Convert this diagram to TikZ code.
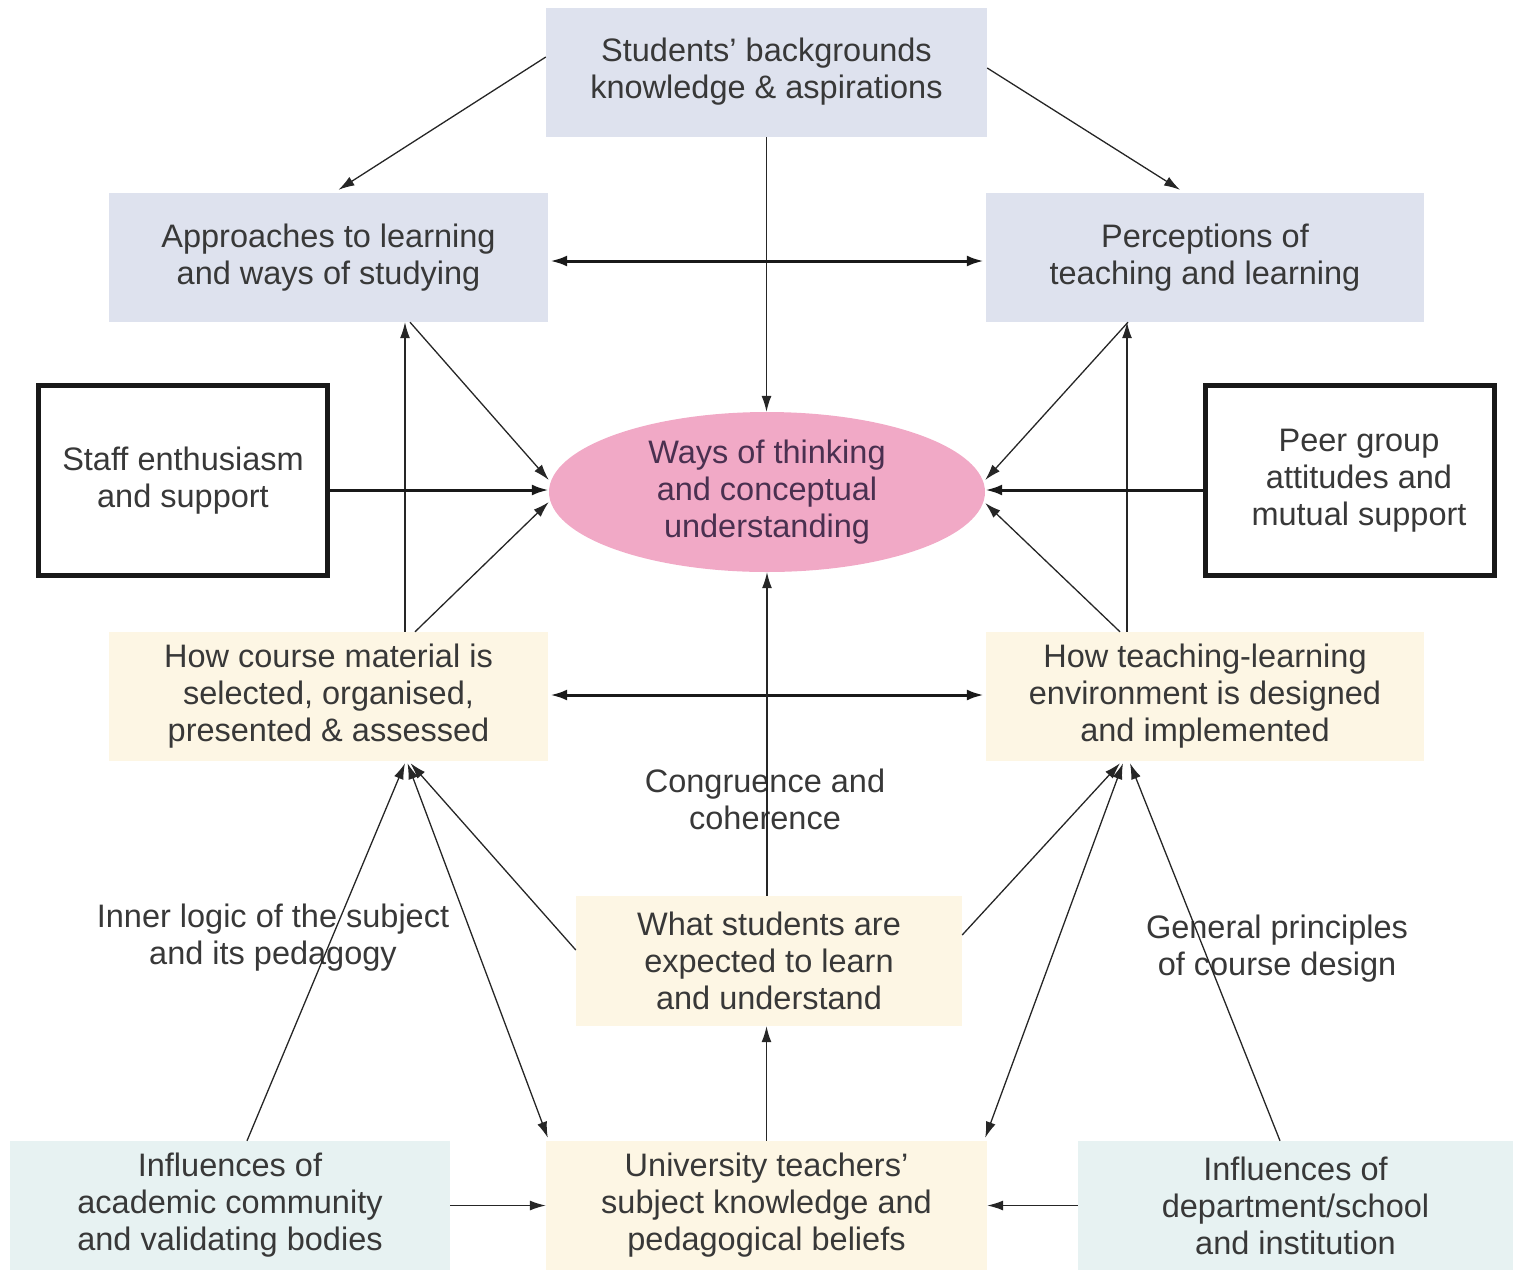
\documentclass[tikz,border=0pt]{standalone}
\usepackage{fontspec}
\setmainfont{Liberation Sans}
\usetikzlibrary{arrows.meta,shapes.geometric}
\definecolor{boxblue}{HTML}{DEE2EE}
\definecolor{boxpink}{HTML}{F1A9C6}
\definecolor{boxcream}{HTML}{FDF6E4}
\definecolor{boxcyan}{HTML}{E7F2F2}
\definecolor{txt}{HTML}{383838}
\definecolor{ptxt}{HTML}{4A3050}
\begin{document}
\begin{tikzpicture}[x=1pt,y=-1pt,font=\fontsize{32.5}{37}\selectfont,
  box/.style={rectangle,inner sep=0pt,align=center,text=txt},
  bluebox/.style={box,fill=boxblue,minimum width=440pt,minimum height=129pt},
  creambox/.style={box,fill=boxcream,minimum width=440pt,minimum height=129pt},
  cyanbox/.style={box,fill=boxcyan,minimum width=438pt,minimum height=129pt},
  framebox/.style={box,draw=black!90,line width=5pt,minimum width=289pt,minimum height=190pt},
  lbl/.style={align=center,text=txt,inner sep=0pt},
  arr/.style={line width=1.3pt,draw=black!85,-{Latex[length=16pt,width=10pt]}},
  darr/.style={line width=1.3pt,draw=black!85,{Latex[length=16pt,width=10pt]}-{Latex[length=16pt,width=10pt]}},
  barr/.style={line width=3pt,draw=black!90,-{Latex[length=17pt,width=11pt]}},
  dbarr/.style={line width=3pt,draw=black!90,{Latex[length=17pt,width=11pt]}-{Latex[length=17pt,width=11pt]}}
]
\useasboundingbox (0,0) rectangle (1513,1270);

% nodes
\node[bluebox,minimum width=441pt] (top) at (766.5,72.5) {\raisebox{3pt}{\begin{tabular}{@{}c@{}}Students’ backgrounds\\[0pt]knowledge \& aspirations\end{tabular}}};
\node[bluebox,minimum width=439pt] (app) at (328.5,257.5) {Approaches to learning\\and ways of studying};
\node[bluebox,minimum width=438pt] (per) at (1205,257.5) {Perceptions of\\teaching and learning};
\node[framebox] (staff) at (183,480.5) {Staff enthusiasm\\and support};
\node[framebox] (peer) at (1350,480.5) {\hspace*{18pt}Peer group\\\hspace*{18pt}attitudes and\\\hspace*{18pt}mutual support};
\node[ellipse,fill=boxpink,minimum width=436pt,minimum height=160pt,inner sep=0pt,align=center,text=ptxt] (ell) at (767,492) {Ways of thinking\\and conceptual\\understanding};
\node[creambox,minimum width=439pt] (crs) at (328.5,696.5) {How course material is\\selected, organised,\\presented \& assessed};
\node[creambox,minimum width=438pt] (tle) at (1205,696.5) {How teaching-learning\\environment is designed\\and implemented};
\node[creambox,minimum width=386pt,minimum height=130pt] (exp) at (769,961) {What students are\\expected to learn\\and understand};
\node[creambox,minimum width=441pt] (uni) at (766.5,1205.5) {University teachers’\\subject knowledge and\\pedagogical beliefs};
\node[cyanbox,minimum width=440pt] (iac) at (230,1205.5) {Influences of\\academic community\\and validating bodies};
\node[cyanbox,minimum width=435pt] (idp) at (1295.5,1205.5) {Influences of\\department/school\\and institution};

% labels
\node[lbl] (cong) at (765,799) {Congruence and\\coherence};
\node[lbl] (inner) at (273,938) {Inner logic of the subject\\and its pedagogy};
\node[lbl] (gen) at (1277,949) {General principles\\of course design};

% connectors from the top
\draw[arr] ([yshift=15.5pt]top.west) -- ([xshift=10pt,yshift=3pt]app.north);
\draw[arr] ([yshift=4.5pt]top.east) -- ([xshift=-25pt,yshift=3pt]per.north);
\draw[arr] (top.south) -- (top.south |- ell.north);
\draw[dbarr] ([xshift=2pt,yshift=-3.5pt]app.east) -- ([xshift=-2pt,yshift=-3.5pt]per.west);

% left middle
\draw[arr] ([xshift=81.5pt]app.south) -- ([yshift=12pt]ell.west);
\draw[arr] ([xshift=76.5pt]crs.north) -- ([xshift=76.5pt]app.south);
\draw[barr] ([yshift=-9.5pt]staff.east) -- ([yshift=-9.5pt]staff.east -| ell.west);
\draw[arr] ([xshift=86.5pt]crs.north) -- ([yshift=-10pt]ell.west);

% right middle
\draw[arr] ([xshift=-77pt]per.south) -- ([yshift=12pt]ell.east);
\draw[arr] ([xshift=-78pt]tle.north) -- ([xshift=-78pt]per.south);
\draw[barr] ([yshift=-9.5pt]peer.west) -- ([yshift=-9.5pt]peer.west -| ell.east);
\draw[arr] ([xshift=-85pt]tle.north) -- ([yshift=-11pt]ell.east);

% centre
\draw[dbarr] ([xshift=2pt,yshift=1.5pt]crs.east) -- ([xshift=-2pt,yshift=1.5pt]tle.west);
\draw[arr] (ell.south |- exp.north) -- (ell.south);
\draw[arr] (uni.north) -- (uni.north |- exp.south);

% lower left
\draw[arr] ([xshift=17pt]iac.north) -- ([xshift=76.5pt,yshift=-2pt]crs.south);
\draw[darr] ([xshift=79pt,yshift=-2pt]crs.south) -- ([xshift=2pt,yshift=3pt]uni.north west);
\draw[arr] ([yshift=11pt]exp.west) -- ([xshift=82pt,yshift=-2pt]crs.south);
\draw[arr] (iac.east) -- (uni.west);

% lower right
\draw[arr] ([yshift=26pt]exp.east) -- ([xshift=-85pt,yshift=-2pt]tle.south);
\draw[darr] ([xshift=-82pt,yshift=-2pt]tle.south) -- ([xshift=-2pt,yshift=3pt]uni.north east);
\draw[arr] ([xshift=-15.5pt]idp.north) -- ([xshift=-75pt,yshift=-2pt]tle.south);
\draw[arr] (idp.west) -- (uni.east);
\end{tikzpicture}
\end{document}
